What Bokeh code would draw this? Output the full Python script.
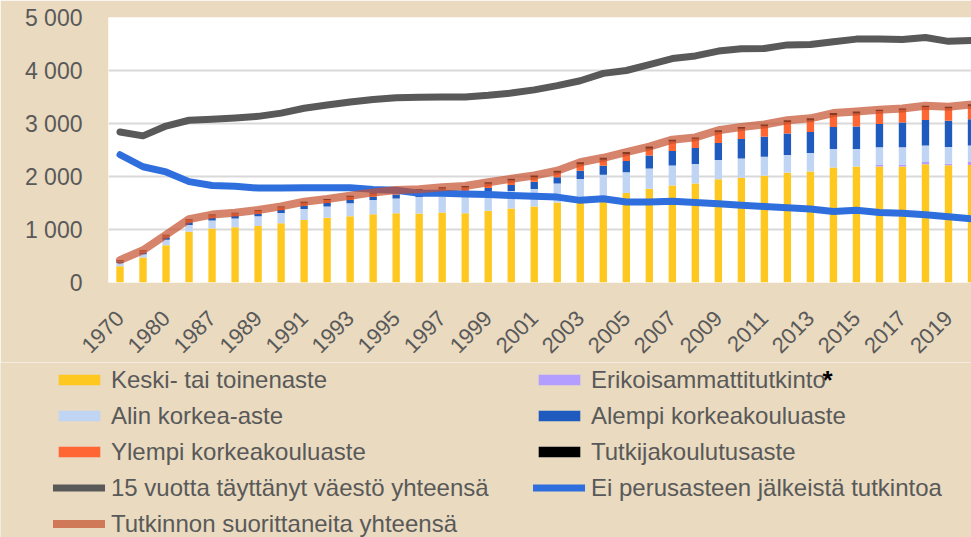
import math
from bokeh.plotting import figure
from bokeh.layouts import column
from bokeh.models import Range1d, FixedTicker, Legend, LegendItem, Label, ColumnDataSource
from bokeh.embed import file_html
from bokeh.resources import INLINE

years = ["1970", "1975", "1980", "1985", "1987", "1988", "1989", "1990", "1991", "1992",
         "1993", "1994", "1995", "1996", "1997", "1998", "1999", "2000", "2001", "2002",
         "2003", "2004", "2005", "2006", "2007", "2008", "2009", "2010", "2011", "2012",
         "2013", "2014", "2015", "2016", "2017", "2018", "2019", "2020"]

keski = [305, 470, 702, 958, 1019, 1043, 1068, 1116, 1177, 1220,
         1251, 1287, 1305, 1301, 1319, 1307, 1356, 1398, 1435, 1508,
         1520, 1532, 1690, 1769, 1830, 1867, 1946, 1976, 2012, 2073,
         2096, 2169, 2187, 2187, 2187, 2230, 2212, 2218]
erikois = [0, 0, 0, 0, 0, 0, 0, 0, 0, 0,
           0, 0, 0, 0, 0, 0, 0, 0, 0, 0,
           0, 0, 0, 0, 0, 0, 0, 0, 0, 0,
           0, 0, 0, 28, 40, 43, 27, 55]
alin = [61, 61, 103, 128, 152, 165, 182, 196, 208, 214,
        244, 269, 281, 310, 325, 345, 335, 330, 328, 359,
        432, 499, 389, 383, 377, 370, 364, 365, 359, 335,
        348, 348, 330, 336, 324, 312, 318, 312]
alempi = [31, 36, 49, 49, 49, 49, 49, 54, 61, 67,
          61, 61, 73, 61, 60, 75, 91, 110, 140, 121,
          158, 170, 213, 243, 274, 303, 324, 366, 379, 403,
          397, 416, 428, 440, 470, 482, 495, 494]
ylempi = [18, 31, 36, 48, 49, 48, 55, 55, 61, 55,
          61, 61, 61, 61, 70, 65, 79, 86, 85, 85,
          120, 115, 128, 130, 180, 170, 207, 195, 201, 219,
          214, 226, 244, 244, 239, 245, 238, 251]
tutkija = [8, 10, 10, 12, 12, 12, 14, 15, 16, 18,
           20, 22, 24, 25, 25, 28, 31, 32, 31, 36,
           38, 37, 42, 40, 34, 28, 31, 31, 31, 31,
           43, 37, 37, 25, 24, 24, 25, 31]

vaesto15 = [2841, 2767, 2951, 3061, 3080, 3104, 3135, 3196, 3288, 3349,
            3405, 3454, 3484, 3495, 3500, 3500, 3531, 3574, 3635, 3714,
            3806, 3946, 4000, 4110, 4226, 4275, 4367, 4409, 4416, 4483,
            4489, 4544, 4592, 4592, 4586, 4623, 4550, 4568]
ei_perus = [2410, 2184, 2086, 1903, 1830, 1818, 1781, 1781, 1787, 1787,
            1787, 1757, 1739, 1684, 1684, 1672, 1660, 1642, 1629, 1611,
            1550, 1581, 1520, 1520, 1532, 1508, 1484, 1459, 1435, 1411,
            1386, 1338, 1362, 1319, 1307, 1277, 1240, 1204]
yhteensa = [423, 608, 900, 1195, 1281, 1317, 1368, 1436, 1523, 1574,
            1637, 1700, 1744, 1758, 1799, 1820, 1892, 1956, 2019, 2109,
            2268, 2353, 2462, 2565, 2695, 2738, 2872, 2933, 2982, 3061,
            3098, 3196, 3226, 3260, 3284, 3336, 3315, 3361]

y_ticks = [0, 1000, 2000, 3000, 4000, 5000]
y_labels = ["0", "1 000", "2 000", "3 000", "4 000", "5 000"]

layer_keys = ["keski", "erikois", "alin", "alempi", "ylempi", "tutkija"]
layer_names = ["Keski- tai toinenaste", "Erikoisammattitutkinto", "Alin korkea-aste",
               "Alempi korkeakouluaste", "Ylempi korkeakouluaste", "Tutkijakoulutusaste"]
layer_colors = ["#FFC820", "#B39DFF", "#C0D4F4", "#1F5BBE", "#FF6633", "#000000"]
line_names = ["15 vuotta täyttänyt väestö yhteensä", "Ei perusasteen jälkeistä tutkintoa",
              "Tutkinnon suorittaneita yhteensä"]

FONT = "Liberation Sans"
TXT = "#595959"
BG = "#e9dac0"
POP_C, EI_C, TOT_C = "#595959", "#2F6FDD", "#C4502E"

x = list(range(len(years)))
src = ColumnDataSource(dict(x=x, keski=keski, erikois=erikois, alin=alin,
                            alempi=alempi, ylempi=ylempi, tutkija=tutkija))

# ---------------- main chart ----------------
p = figure(width=971, height=362, output_backend="svg", toolbar_location=None,
           x_range=Range1d(-0.5, 37.0), y_range=Range1d(0, 5000),
           min_border_left=108, min_border_right=0, min_border_top=17,
           min_border_bottom=72,
           background_fill_color="white", border_fill_color=BG)
p.frame_align = False
p.outline_line_color = None

p.xgrid.grid_line_color = None
p.ygrid.ticker = FixedTicker(ticks=y_ticks)
p.ygrid.grid_line_color = "#d9d9d9"
p.ygrid.grid_line_width = 2

p.yaxis.ticker = FixedTicker(ticks=y_ticks)
p.yaxis.major_label_overrides = {t: l for t, l in zip(y_ticks, y_labels)}
p.yaxis.axis_line_color = None
p.yaxis.major_tick_line_color = None
p.yaxis.minor_tick_line_color = None
p.yaxis.major_label_text_font = FONT
p.yaxis.major_label_text_font_size = "23px"
p.yaxis.major_label_text_color = TXT
p.yaxis.major_label_standoff = 20

xt = list(range(0, len(years), 2))
p.xaxis.ticker = FixedTicker(ticks=xt)
p.xaxis.major_label_overrides = {i: years[i] for i in xt}
p.xaxis.major_label_orientation = math.pi / 4
p.xaxis.axis_line_color = None
p.xaxis.major_tick_line_color = None
p.xaxis.minor_tick_line_color = None
p.xaxis.major_label_text_font = FONT
p.xaxis.major_label_text_font_size = "22px"
p.xaxis.major_label_text_color = TXT
p.xaxis.major_label_standoff = 26

p.vbar_stack(layer_keys, x="x", width=0.32, source=src,
             fill_color=layer_colors, line_color=None)
p.line(x, vaesto15, line_color=POP_C, line_width=7, line_cap="round", line_join="round")
p.line(x, ei_perus, line_color=EI_C, line_width=7, line_cap="round", line_join="round")
p.line(x, yhteensa, line_color=TOT_C, line_alpha=0.7, line_width=8,
       line_cap="round", line_join="round")

# ---------------- legend panel ----------------
lg = figure(width=971, height=175, output_backend="svg", toolbar_location=None,
            x_range=Range1d(0, 1), y_range=Range1d(0, 1),
            min_border_left=0, min_border_right=0, min_border_top=0, min_border_bottom=0,
            background_fill_color=BG, border_fill_color=BG)
lg.frame_align = False
lg.outline_line_color = None
lg.axis.visible = False
lg.grid.visible = False

# one off-range point so that each legend swatch has its style
dummy = ColumnDataSource(dict(x=[-5, -6], top=[-5, -6]))
bar_r = [lg.vbar(x="x", top="top", width=0.3, source=dummy, fill_color=c, line_color=None)
         for c in layer_colors]
pop_r = lg.line(x="x", y="top", source=dummy, line_color=POP_C, line_width=7, line_cap="round")
ei_r = lg.line(x="x", y="top", source=dummy, line_color=EI_C, line_width=7, line_cap="round")
tot_r = lg.line(x="x", y="top", source=dummy, line_color=TOT_C, line_alpha=0.7,
                line_width=8, line_cap="round")

items = [LegendItem(label=n, renderers=[r]) for n, r in zip(layer_names, bar_r)]
items += [LegendItem(label=line_names[0], renderers=[pop_r]),
          LegendItem(label=line_names[1], renderers=[ei_r]),
          LegendItem(label=line_names[2], renderers=[tot_r])]

legend = Legend(items=items, location=(53, -0.5), orientation="horizontal", ncols=2,
                spacing=8, padding=0, margin=0, glyph_width=52, glyph_height=13,
                label_standoff=6, label_width=414, label_height=28,
                label_text_font=FONT, label_text_font_size="24px",
                label_text_color=TXT, border_line_alpha=0, background_fill_alpha=0)
lg.add_layout(legend)

star = Label(x=822, y=173, x_units="screen", y_units="screen", text="*",
             text_font=FONT, text_font_size="26px", text_font_style="bold",
             text_color="black", text_baseline="top")
lg.add_layout(star)

layout = column(p, lg, spacing=0)

html = file_html(layout, INLINE, title="Koulutusaste")
html = html.replace("<body>", '<body style="background-color:%s;">' % BG, 1)
open("out.html", "w").write(html)
